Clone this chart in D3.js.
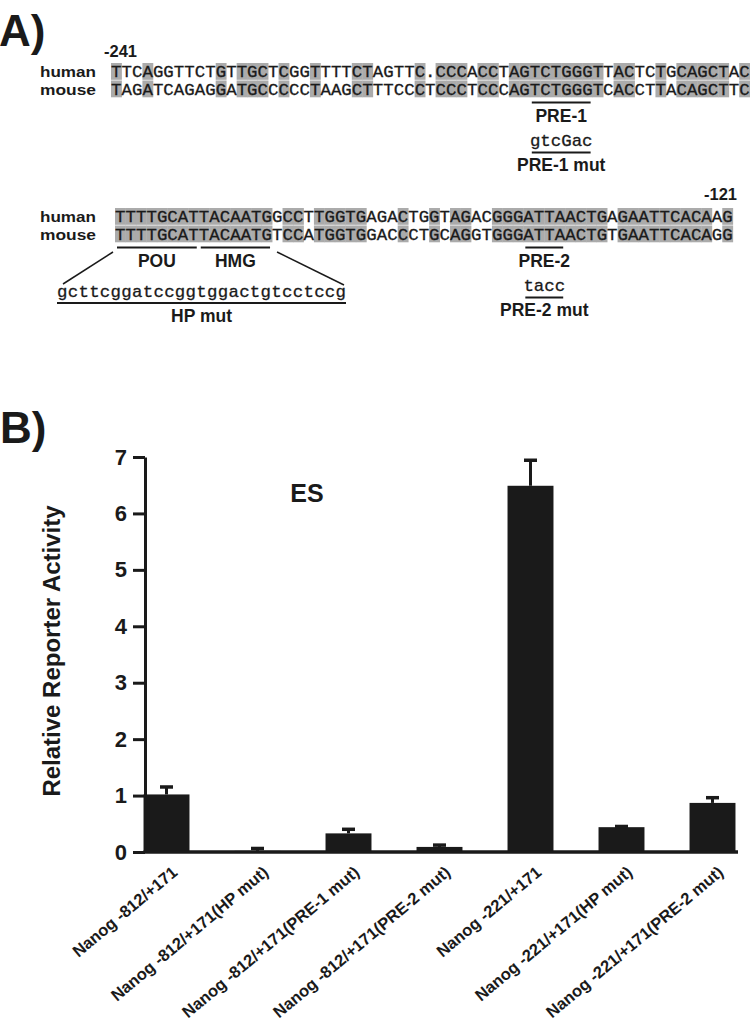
<!DOCTYPE html>
<html><head><meta charset="utf-8">
<script src="https://cdn.jsdelivr.net/npm/d3@7"></script>
<style>
body{margin:0;background:#fff;}
svg{display:block;}
</style></head>
<body>
<script>
// ---------- Panel A data ----------
const seq1Human = "TTCAGGTTCTGTTGCTCGGTTTTCTAGTTC.CCCACCTAGTCTGGGTTACTCTGCAGCTAC";
const seq1Mouse = "TAGATCAGAGGATGCCCCCTAAGCTTTCCCTCCCTCCCAGTCTGGGTCACCTTACAGCTTC";
const seq2Human = "TTTTGCATTACAATGGCCTTGGTGAGACTGGTAGACGGGATTAACTGAGAATTCACAAG";
const seq2Mouse = "TTTTGCATTACAATGTCCATGGTGGACCCTGCAGGTGGGATTAACTGTGAATTCACAGG";
const seqStart1 = "-241";
const seqEnd2 = "-121";
const speciesLabels = ["human", "mouse"];
// annotation sites: line, first column (1-based), last column, label
const sites = [
  {line: 1, from: 41, to: 46, label: "PRE-1", mut: "gtcGac", mutLabel: "PRE-1 mut"},
  {line: 2, from: 1, to: 8, label: "POU"},
  {line: 2, from: 9, to: 15, label: "HMG"},
  {line: 2, from: 40, to: 43, label: "PRE-2", mut: "tacc", mutLabel: "PRE-2 mut"}
];
const hpMutSeq = "gcttcggatccggtggactgtcctccg";
const hpMutLabel = "HP mut";

// ---------- Panel B data ----------
const categories = [
  "Nanog -812/+171",
  "Nanog -812/+171(HP mut)",
  "Nanog -812/+171(PRE-1 mut)",
  "Nanog -812/+171(PRE-2 mut)",
  "Nanog -221/+171",
  "Nanog -221/+171(HP mut)",
  "Nanog -221/+171(PRE-2 mut)"
];
const values = [1.02, 0.02, 0.33, 0.09, 6.49, 0.44, 0.87];
const errors = [0.15, 0.06, 0.09, 0.05, 0.47, 0.03, 0.11];
const yTicks = [0, 1, 2, 3, 4, 5, 6, 7];
const yLabel = "Relative Reporter Activity";
const groupLabel = "ES";

const W = 750, H = 1025;
const ink = "#1a1a1a";
const shade = "#ababab";
const mono = "'Courier New','Liberation Mono',monospace";
const sans = "Arial,'Liberation Sans',Helvetica,sans-serif";

const svg = d3.select("body").append("svg").attr("width", W).attr("height", H);

// ---------- Panel A ----------
svg.append("text").attr("x", -1).attr("y", 46).attr("font-family", sans)
  .attr("font-weight", "bold").attr("font-size", 44).attr("fill", ink).text("A)");

const cw = 10.47;
const lines = [
  {human: seq1Human, mouse: seq1Mouse, x0: 111, top: 63},
  {human: seq2Human, mouse: seq2Mouse, x0: 115, top: 208}
];
const rowPitch = 17.5, boxH = 16.8;

lines.forEach((L, li) => {
  const g = svg.append("g");
  const n = L.human.length;
  const idx = d3.range(n).filter(i => L.human[i] === L.mouse[i]);
  [0, 1].forEach(r => {
    g.selectAll(null).data(idx).enter().append("rect")
      .attr("x", i => L.x0 + i * cw).attr("y", L.top + r * rowPitch)
      .attr("width", cw + 0.4).attr("height", boxH).attr("fill", shade);
  });
  const t = g.append("text").attr("font-family", mono).attr("font-size", 17.4).attr("fill", ink)
    .attr("stroke", ink).attr("stroke-width", 0.3);
  [L.human, L.mouse].forEach((s, r) => {
    t.append("tspan").attr("x", L.x0).attr("y", L.top + 14 + r * rowPitch)
      .attr("textLength", n * cw).attr("lengthAdjust", "spacing").text(s);
  });
  speciesLabels.forEach((s, r) => {
    g.append("text").attr("x", 40).attr("y", L.top + 14 + r * rowPitch)
      .attr("font-family", sans).attr("font-weight", "bold").attr("font-size", 15.2)
      .attr("textLength", 56).attr("lengthAdjust", "spacingAndGlyphs")
      .attr("fill", ink).text(s);
  });
});

svg.append("text").attr("x", 104).attr("y", 57).attr("font-family", sans)
  .attr("font-weight", "bold").attr("font-size", 16.5).attr("fill", ink).text(seqStart1);
svg.append("text").attr("x", 737).attr("y", 200).attr("text-anchor", "end").attr("font-family", sans)
  .attr("font-weight", "bold").attr("font-size", 16.5).attr("fill", ink).text(seqEnd2);

sites.forEach(s => {
  const L = lines[s.line - 1];
  const x1 = L.x0 + (s.from - 1) * cw + 2, x2 = L.x0 + s.to * cw - 2;
  const cx = (x1 + x2) / 2;
  const yl = L.top + 2 * rowPitch + 4.5;
  svg.append("line").attr("x1", x1).attr("x2", x2).attr("y1", yl).attr("y2", yl)
    .attr("stroke", ink).attr("stroke-width", 2);
  svg.append("text").attr("x", cx).attr("y", yl + 19).attr("text-anchor", "middle")
    .attr("font-family", sans).attr("font-weight", "bold").attr("font-size", 17.5)
    .attr("fill", ink).text(s.label);
  if (s.mut) {
    svg.append("text").attr("x", cx).attr("y", yl + 43).attr("text-anchor", "middle")
      .attr("font-family", mono).attr("font-size", 17.4).attr("fill", ink)
      .attr("stroke", ink).attr("stroke-width", 0.3).text(s.mut);
    svg.append("line").attr("x1", x1).attr("x2", x2).attr("y1", yl + 50).attr("y2", yl + 50)
      .attr("stroke", ink).attr("stroke-width", 2);
    svg.append("text").attr("x", cx).attr("y", yl + 68).attr("text-anchor", "middle")
      .attr("font-family", sans).attr("font-weight", "bold").attr("font-size", 17.5)
      .attr("fill", ink).text(s.mutLabel);
  }
});

// HP mut block
{
  const L = lines[1];
  const hx0 = 57, hx1 = 346;
  svg.append("line").attr("x1", L.x0 - 2).attr("y1", 252).attr("x2", 63).attr("y2", 284)
    .attr("stroke", ink).attr("stroke-width", 1.5);
  svg.append("line").attr("x1", L.x0 + 15 * cw + 5).attr("y1", 252).attr("x2", 344).attr("y2", 285)
    .attr("stroke", ink).attr("stroke-width", 1.5);
  svg.append("text").attr("x", hx0).attr("y", 297).attr("font-family", mono).attr("font-size", 17.4)
    .attr("textLength", hx1 - hx0).attr("lengthAdjust", "spacing")
    .attr("stroke", ink).attr("stroke-width", 0.3).attr("fill", ink).text(hpMutSeq);
  svg.append("line").attr("x1", hx0).attr("x2", hx1).attr("y1", 303).attr("y2", 303)
    .attr("stroke", ink).attr("stroke-width", 2);
  svg.append("text").attr("x", (hx0 + hx1) / 2).attr("y", 322).attr("text-anchor", "middle")
    .attr("font-family", sans).attr("font-weight", "bold").attr("font-size", 17.5)
    .attr("fill", ink).text(hpMutLabel);
}

// ---------- Panel B ----------
svg.append("text").attr("x", 0).attr("y", 443).attr("font-family", sans)
  .attr("font-weight", "bold").attr("font-size", 44).attr("fill", ink).text("B)");

const y = d3.scaleLinear().domain([0, 7]).range([852, 457]);
const x = d3.scaleBand().domain(categories).range([121, 758]).paddingInner(0.495).paddingOuter(0.2475);
const axisX0 = 145, axisX1 = 738;

const bars = svg.append("g");
bars.selectAll("rect.bar").data(values).enter().append("rect").attr("class", "bar")
  .attr("x", (d, i) => x(categories[i])).attr("width", x.bandwidth())
  .attr("y", d => y(d)).attr("height", d => y(0) - y(d)).attr("fill", ink);

// error bars (upper)
const eb = svg.append("g").attr("stroke", ink);
values.forEach((v, i) => {
  const cx = x(categories[i]) + x.bandwidth() / 2;
  eb.append("line").attr("x1", cx).attr("x2", cx).attr("y1", y(v)).attr("y2", y(v + errors[i]))
    .attr("stroke-width", 3);
  eb.append("line").attr("x1", cx - 6.5).attr("x2", cx + 6.5)
    .attr("y1", y(v + errors[i]) + 1).attr("y2", y(v + errors[i]) + 1).attr("stroke-width", 3.5);
});

// y axis
const yAxis = svg.append("g").attr("transform", `translate(${axisX0},0)`)
  .call(d3.axisLeft(y).tickValues(yTicks).tickFormat(d3.format("d")).tickSize(12).tickSizeOuter(0).tickPadding(6));
yAxis.select(".domain").attr("stroke", ink).attr("stroke-width", 3);
yAxis.selectAll(".tick line").attr("stroke", ink).attr("stroke-width", 3);
yAxis.selectAll(".tick text").attr("font-family", sans).attr("font-weight", "bold")
  .attr("font-size", 22).attr("fill", ink);

// x axis baseline
svg.append("line").attr("x1", axisX0 - 1.5).attr("x2", axisX1).attr("y1", y(0)).attr("y2", y(0))
  .attr("stroke", ink).attr("stroke-width", 3.5);

// x axis labels
const xAxis = svg.append("g").attr("transform", `translate(0,${y(0)})`)
  .call(d3.axisBottom(x).tickSize(0).tickPadding(0));
xAxis.select(".domain").remove();
xAxis.selectAll(".tick text")
  .attr("font-family", sans).attr("font-weight", "bold").attr("font-size", 16.5).attr("fill", ink)
  .attr("text-anchor", "end").attr("dy", 0).attr("y", 0)
  .attr("transform", "translate(12,22) rotate(-40)");

// y label
svg.append("text").attr("transform", "translate(60,651) rotate(-90)").attr("text-anchor", "middle")
  .attr("font-family", sans).attr("font-weight", "bold").attr("font-size", 24).attr("fill", ink)
  .text(yLabel);

svg.append("text").attr("x", 307).attr("y", 502).attr("text-anchor", "middle")
  .attr("font-family", sans).attr("font-weight", "bold").attr("font-size", 25).attr("fill", ink)
  .text(groupLabel);
</script>
</body></html>
